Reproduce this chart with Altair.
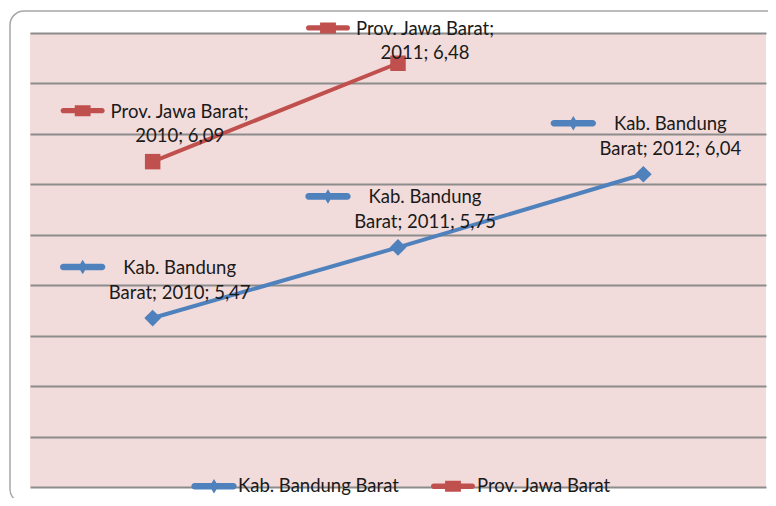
import altair as alt
import pandas as pd
import textwrap

# ---- data ----
series = ["Kab. Bandung Barat", "Prov. Jawa Barat"]
kab_years = ["2010", "2011", "2012"]
kab_values = [5.47, 5.75, 6.04]
prov_years = ["2010", "2011"]
prov_values = [6.09, 6.48]
y_ticks = [4.8, 5.0, 5.2, 5.4, 5.6, 5.8, 6.0, 6.2, 6.4, 6.6]
colors = ["#4F81BD", "#C0504D"]

rows = []
for yr, v in zip(kab_years, kab_values):
    rows.append({"series": series[0], "year": yr, "value": v})
for yr, v in zip(prov_years, prov_values):
    rows.append({"series": series[1], "year": yr, "value": v})
df = pd.DataFrame(rows)
df["label"] = [
    "\n".join(textwrap.wrap(f"{s}; {yr}; " + f"{v:.2f}".replace(".", ","), 17))
    for s, yr, v in zip(df["series"], df["year"], df["value"])
]

# legend-key style symbols (line with marker), unit coordinates
KEY_KAB = ("M-0.88,-0.15H0.88A0.15,0.15 0 0 1 0.88,0.15H-0.88A0.15,0.15 0 0 1 -0.88,-0.15Z "
           "M0,-0.33L0.2,0L0,0.33L-0.2,0Z")
KEY_PROV = ("M-0.88,-0.12H0.88A0.12,0.12 0 0 1 0.88,0.12H-0.88A0.12,0.12 0 0 1 -0.88,-0.12Z "
            "M-0.36,-0.25H0.36V0.25H-0.36Z")

FONT = "Lato"
FS = 18.5
TXT = "#1a1a1a"

x_enc = alt.X("year:O", scale=alt.Scale(type="point", padding=0.5), axis=None)
y_scale = alt.Scale(domain=[4.8, 6.6], nice=False, zero=False)
y_axis = alt.Axis(values=y_ticks, labels=False, ticks=False, domain=False, grid=True,
                  gridColor="#8c8c8c", gridWidth=2, title=None)
color_scale = alt.Scale(domain=series, range=colors)

base = alt.Chart(df)

layers = []
marker_shapes = ["diamond", "square"]
marker_sizes = [280, 240]
for i, s in enumerate(series):
    sub = base.transform_filter(alt.datum.series == s)
    layers.append(
        sub.mark_line(strokeWidth=4, strokeCap="round", strokeJoin="round", color=colors[i]).encode(
            x=x_enc, y=alt.Y("value:Q", scale=y_scale, axis=y_axis)
        )
    )
for i, s in enumerate(series):
    sub = base.transform_filter(alt.datum.series == s)
    layers.append(
        sub.mark_point(shape=marker_shapes[i], filled=True, size=marker_sizes[i], opacity=1,
                       strokeWidth=0, color=colors[i]).encode(
            x=x_enc, y=alt.Y("value:Q", scale=y_scale, axis=y_axis)
        )
    )

leg = dict(title=None, orient="none", legendX=162, legendY=431, direction="horizontal",
           symbolSize=1936, symbolStrokeWidth=0, labelFont=FONT, labelFontSize=FS,
           labelColor=TXT, labelOffset=2, labelLimit=400, columnPadding=32, padding=0)

keys = base.transform_calculate(ly="min(datum.value, 6.418)").mark_point(
    filled=True, opacity=1, size=1936, strokeWidth=0
).encode(
    x=x_enc,
    y=alt.Y("ly:Q", scale=y_scale, axis=y_axis),
    color=alt.Color("series:N", scale=color_scale, legend=alt.Legend(**leg)),
    shape=alt.Shape("series:N", scale=alt.Scale(domain=series, range=[KEY_KAB, KEY_PROV]),
                    legend=alt.Legend(**leg)),
    xOffset=alt.value(-70),
    yOffset=alt.value(-51),
)

labels = base.transform_calculate(ly="min(datum.value, 6.418)").mark_text(
    align="center", baseline="top", lineBreak="\n", dx=27, dy=-59,
    font=FONT, fontSize=FS, lineHeight=24.5, color=TXT
).encode(
    x=x_enc,
    y=alt.Y("ly:Q", scale=y_scale, axis=y_axis),
    text="label:N",
)

frame = alt.Chart(pd.DataFrame({"f": [0]})).mark_rect(
    fillOpacity=0, stroke="#a6a6a6", strokeWidth=1.5, cornerRadius=14
).encode(
    x=alt.value(-20), x2=alt.value(770), y=alt.value(-22), y2=alt.value(470)
)

chart = alt.layer(frame, *layers, keys, labels).properties(
    width=736, height=454,
    autosize=alt.AutoSizeParams(type="none"),
    padding={"left": 22, "top": 25, "right": 2, "bottom": 11},
    background="white",
).configure_view(fill="#F2DCDB", strokeWidth=0)

chart.save("out.html", embed_options={"renderer": "svg", "actions": False})
